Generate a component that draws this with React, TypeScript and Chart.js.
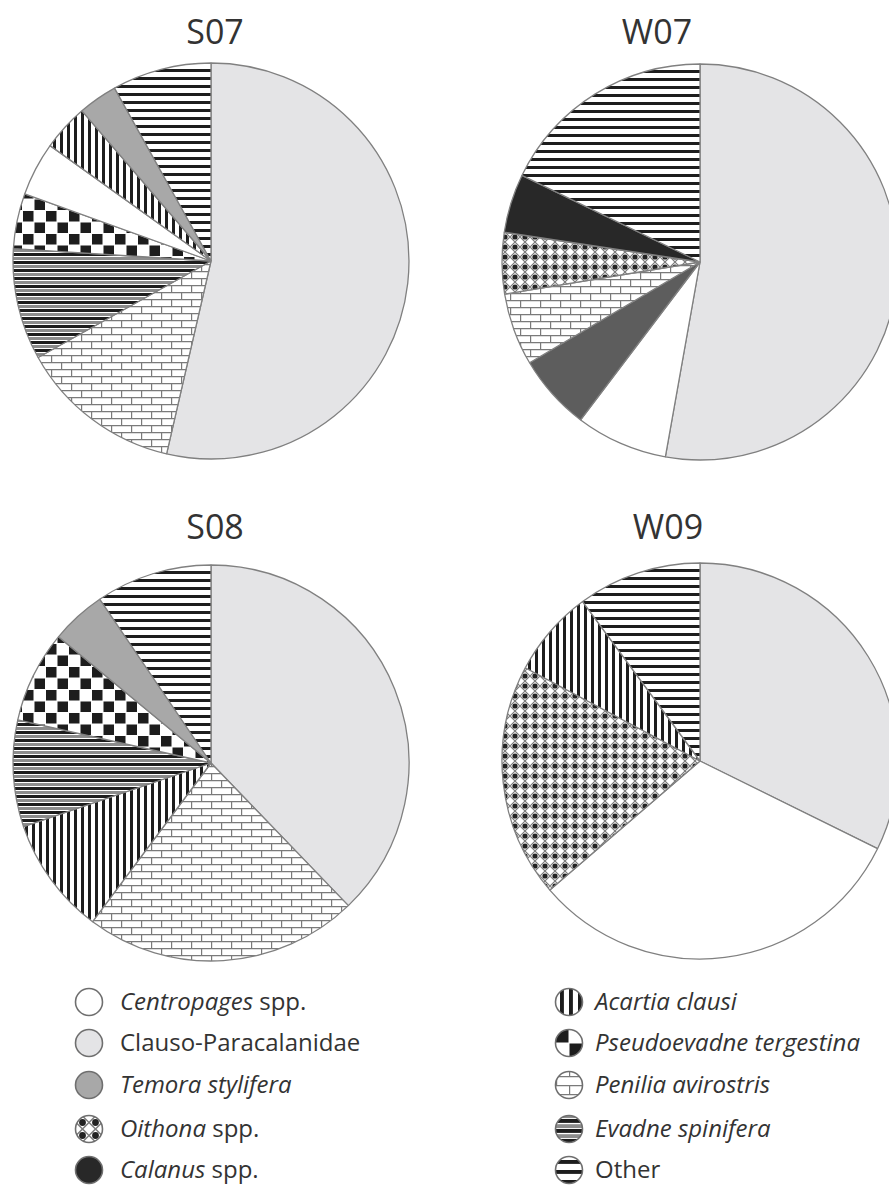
import React, { useEffect, useRef } from 'react';
import { Chart, PieController, ArcElement } from 'chart.js';

Chart.register(PieController, ArcElement);

// ---- Data: percentage composition of each sample, listed clockwise from 12 o'clock ----
const S07_LABELS = [
  'Clauso-Paracalanidae',
  'Penilia avirostris',
  'Evadne spinifera',
  'Pseudoevadne tergestina',
  'Centropages spp.',
  'Acartia clausi',
  'Temora stylifera',
  'Other',
];
const S07_VALUES = [53.6, 13.3, 9.1, 4.5, 4.4, 3.8, 3.2, 8.1];

const W07_LABELS = [
  'Clauso-Paracalanidae',
  'Centropages spp.',
  'Temora stylifera',
  'Penilia avirostris',
  'Oithona spp.',
  'Calanus spp.',
  'Other',
];
const W07_VALUES = [52.8, 7.5, 6.2, 5.9, 5.0, 4.8, 17.8];

const S08_LABELS = [
  'Clauso-Paracalanidae',
  'Penilia avirostris',
  'Acartia clausi',
  'Evadne spinifera',
  'Pseudoevadne tergestina',
  'Temora stylifera',
  'Other',
];
const S08_VALUES = [37.8, 22.4, 9.6, 8.7, 7.5, 4.5, 9.5];

const W09_LABELS = [
  'Clauso-Paracalanidae',
  'Centropages spp.',
  'Oithona spp.',
  'Acartia clausi',
  'Other',
];
const W09_VALUES = [32.3, 31.4, 19.1, 7.1, 10.1];

const LEGEND_LEFT = [
  'Centropages spp.',
  'Clauso-Paracalanidae',
  'Temora stylifera',
  'Oithona spp.',
  'Calanus spp.',
];
const LEGEND_RIGHT = [
  'Acartia clausi',
  'Pseudoevadne tergestina',
  'Penilia avirostris',
  'Evadne spinifera',
  'Other',
];

// ---- Fills ----
const SOLID: Record<string, string> = {
  'Clauso-Paracalanidae': '#e4e4e6',
  'Centropages spp.': '#ffffff',
  'Temora stylifera': '#a8a8a8',
  'Calanus spp.': '#282828',
};

const INK = '#1d1d1d';
const EDGE = '#808080';
const TEXT = '#333333';
const FONT = "'Open Sans', 'Noto Sans', sans-serif";

function makeTile(w: number, h: number, paint: (g: CanvasRenderingContext2D) => void) {
  const c = document.createElement('canvas');
  c.width = w;
  c.height = h;
  const g = c.getContext('2d')!;
  g.fillStyle = '#ffffff';
  g.fillRect(0, 0, w, h);
  paint(g);
  return c;
}

function patternTile(label: string, s: number): HTMLCanvasElement | null {
  switch (label) {
    case 'Other': {
      const p = Math.round(8 * s);
      return makeTile(p, p, (g) => {
        g.fillStyle = INK;
        g.fillRect(0, 0, p, 3 * s);
      });
    }
    case 'Evadne spinifera': {
      const p = Math.round(8 * s);
      return makeTile(p, p, (g) => {
        g.fillStyle = INK;
        g.fillRect(0, 0, p, 3 * s);
        g.fillStyle = '#8c8c8c';
        g.fillRect(0, 4 * s, p, 3 * s);
      });
    }
    case 'Acartia clausi': {
      const p = Math.round(7 * s);
      return makeTile(p, p, (g) => {
        g.fillStyle = INK;
        g.fillRect(0, 0, 3 * s, p);
      });
    }
    case 'Pseudoevadne tergestina': {
      const p = Math.round(23 * s);
      const c = p / 2;
      return makeTile(p, p, (g) => {
        g.fillStyle = INK;
        g.fillRect(0.5, 0.5, c - 1, c - 1);
        g.fillRect(c + 0.5, c + 0.5, c - 1, c - 1);
      });
    }
    case 'Penilia avirostris': {
      const w = Math.round(20 * s);
      const h = Math.round(14 * s);
      const hh = h / 2;
      return makeTile(w, h, (g) => {
        g.strokeStyle = '#7a7a7a';
        g.lineWidth = 1.2;
        g.beginPath();
        g.moveTo(0, 0.6);
        g.lineTo(w, 0.6);
        g.moveTo(0, hh + 0.6);
        g.lineTo(w, hh + 0.6);
        g.moveTo(0.6, 0);
        g.lineTo(0.6, hh);
        g.moveTo(w / 2 + 0.6, hh);
        g.lineTo(w / 2 + 0.6, h);
        g.stroke();
      });
    }
    case 'Oithona spp.': {
      const p = Math.round(10 * s);
      return makeTile(p, p, (g) => {
        g.strokeStyle = '#7c7c7c';
        g.lineWidth = 1.1 * s;
        g.beginPath();
        g.moveTo(p / 2, 0);
        g.lineTo(p, p / 2);
        g.lineTo(p / 2, p);
        g.lineTo(0, p / 2);
        g.closePath();
        g.stroke();
        g.fillStyle = '#222222';
        g.beginPath();
        g.arc(p / 2, p / 2, 2.6 * s, 0, Math.PI * 2);
        g.fill();
      });
    }
    default:
      return null;
  }
}

function makeFill(
  ctx: CanvasRenderingContext2D,
  label: string,
  s: number,
  override?: Record<string, string>
): string | CanvasPattern {
  if (override && override[label]) return override[label];
  if (SOLID[label]) return SOLID[label];
  const t = patternTile(label, s);
  if (!t) return '#ffffff';
  return ctx.createPattern(t, 'repeat') as CanvasPattern;
}

// ---- Pie chart ----
const SIZE = 400;
const RADIUS = 198;

type PieProps = {
  labels: string[];
  values: number[];
  cx: number;
  cy: number;
  override?: Record<string, string>;
};

function Pie({ labels, values, cx, cy, override }: PieProps) {
  const ref = useRef<HTMLCanvasElement>(null);
  useEffect(() => {
    const canvas = ref.current!;
    const ctx = canvas.getContext('2d')!;
    const fills = labels.map((l) => makeFill(ctx, l, 1, override));
    const chart = new Chart(canvas, {
      type: 'pie',
      data: {
        labels,
        datasets: [
          {
            data: values,
            backgroundColor: fills,
            borderColor: EDGE,
            borderWidth: 1.3,
            radius: RADIUS,
          } as any,
        ],
      },
      options: {
        responsive: false,
        animation: false,
        events: [],
        layout: { padding: 0 },
        plugins: {
          legend: { display: false },
          tooltip: { enabled: false },
          title: { display: false },
        },
      },
    });
    return () => chart.destroy();
  }, [labels, values, override]);
  return (
    <canvas
      ref={ref}
      width={SIZE}
      height={SIZE}
      style={{ position: 'absolute', left: cx - SIZE / 2, top: cy - SIZE / 2, width: SIZE, height: SIZE }}
    />
  );
}

// ---- Legend ----
function Swatch({ label, cx, cy }: { label: string; cx: number; cy: number }) {
  const ref = useRef<HTMLCanvasElement>(null);
  useEffect(() => {
    const c = ref.current!;
    const g = c.getContext('2d')!;
    g.clearRect(0, 0, c.width, c.height);
    const fill = makeFill(g, label, 1.3);
    if (typeof fill !== 'string') {
      fill.setTransform(new DOMMatrix().translate(16, 16));
    }
    g.beginPath();
    g.arc(16, 16, 13.5, 0, Math.PI * 2);
    g.fillStyle = fill;
    g.fill();
    g.lineWidth = 1.6;
    g.strokeStyle = '#6f6f6f';
    g.stroke();
  }, [label]);
  return (
    <canvas
      ref={ref}
      width={32}
      height={32}
      style={{ position: 'absolute', left: cx - 16, top: cy - 16 }}
    />
  );
}

function LegendLabel({ label }: { label: string }) {
  if (label === 'Clauso-Paracalanidae' || label === 'Other') return <span>{label}</span>;
  if (label.endsWith(' spp.')) {
    return (
      <span>
        <i>{label.slice(0, -5)}</i>
        {' spp.'}
      </span>
    );
  }
  return <i>{label}</i>;
}

const LEGEND_ROWS_Y = [1002, 1043, 1085, 1129, 1170];

function LegendColumn({ items, swatchX, textX }: { items: string[]; swatchX: number; textX: number }) {
  return (
    <>
      {items.map((label, i) => (
        <React.Fragment key={label}>
          <Swatch label={label} cx={swatchX} cy={LEGEND_ROWS_Y[i]} />
          <div
            style={{
              position: 'absolute',
              left: textX,
              top: LEGEND_ROWS_Y[i] - 13,
              fontFamily: FONT,
              fontSize: 24,
              lineHeight: '24px',
              color: TEXT,
              whiteSpace: 'nowrap',
            }}
          >
            <LegendLabel label={label} />
          </div>
        </React.Fragment>
      ))}
    </>
  );
}

function Title({ text, cx, top }: { text: string; cx: number; top: number }) {
  return (
    <div
      style={{
        position: 'absolute',
        left: cx,
        top,
        transform: 'translateX(-50%)',
        fontFamily: FONT,
        fontSize: 34,
        lineHeight: '34px',
        color: TEXT,
        whiteSpace: 'nowrap',
      }}
    >
      {text}
    </div>
  );
}

const W07_SHADES = { 'Temora stylifera': '#5d5d5d' };

export default function App() {
  return (
    <div
      style={{
        position: 'absolute',
        left: 0,
        top: 0,
        width: 889,
        height: 1189,
        overflow: 'hidden',
        background: '#ffffff',
      }}
    >
      <Title text="S07" cx={215} top={14} />
      <Title text="W07" cx={657} top={14} />
      <Title text="S08" cx={215} top={509} />
      <Title text="W09" cx={668} top={509} />

      <Pie labels={S07_LABELS} values={S07_VALUES} cx={211} cy={261} />
      <Pie labels={W07_LABELS} values={W07_VALUES} cx={700} cy={262} override={W07_SHADES} />
      <Pie labels={S08_LABELS} values={S08_VALUES} cx={211} cy={763} />
      <Pie labels={W09_LABELS} values={W09_VALUES} cx={700} cy={761} />

      <LegendColumn items={LEGEND_LEFT} swatchX={89} textX={120} />
      <LegendColumn items={LEGEND_RIGHT} swatchX={569} textX={595} />
    </div>
  );
}
